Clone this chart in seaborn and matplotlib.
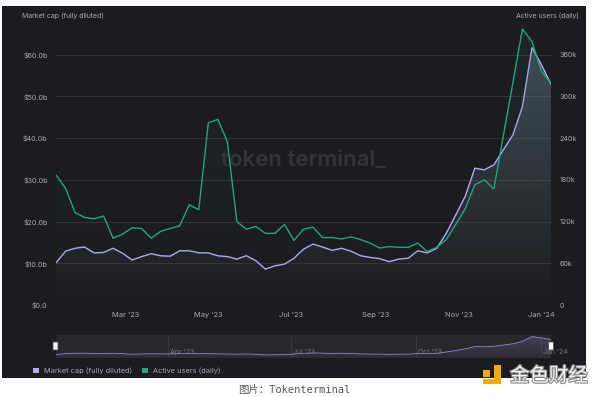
import numpy as np
import pandas as pd
import matplotlib
matplotlib.use('Agg')
import matplotlib.pyplot as plt
import matplotlib.dates as mdates
import matplotlib.colors as mcolors
import matplotlib.patheffects as pe
from matplotlib.patches import Rectangle, Patch, FancyBboxPatch
import seaborn as sns

# ---------------- data ----------------
start_date = '2023-01-09'
n_weeks = 53
market_cap_b = [10.1, 12.9, 13.6, 13.9, 12.5, 12.6, 13.6, 12.4, 10.8, 11.6,
                12.3, 11.8, 11.7, 13.0, 13.0, 12.5, 12.5, 11.8, 11.6, 11.0,
                11.8, 10.6, 8.6, 9.4, 9.8, 11.2, 13.4, 14.6, 13.9, 13.1,
                13.6, 12.9, 11.8, 11.4, 11.1, 10.4, 11.0, 11.2, 13.0, 12.5,
                13.6, 17.2, 21.6, 26.1, 32.8, 32.4, 33.6, 37.2, 40.8, 47.6,
                61.7, 57.6, 52.9]
active_users_k = [187, 168, 133, 126, 124, 128, 96, 102, 111, 110,
                  96, 106, 110, 114, 144, 137, 262, 267, 235, 120,
                  109, 113, 103, 103, 116, 93, 109, 112, 97, 97,
                  95, 98, 94, 89, 82, 84, 83, 83, 89, 77,
                  83, 94, 116, 139, 173, 180, 167, 244, 320, 397,
                  379, 336, 319]

left_ticks = [0, 10, 20, 30, 40, 50, 60]
left_tick_labels = ['$0.0', '$10.0b', '$20.0b', '$30.0b', '$40.0b', '$50.0b', '$60.0b']
right_ticks = [0, 60, 120, 180, 240, 300, 360]
right_tick_labels = ['0', '60k', '120k', '180k', '240k', '300k', '360k']
x_tick_dates = ['2023-03-01', '2023-05-01', '2023-07-01', '2023-09-01', '2023-11-01', '2024-01-01']
x_tick_labels = ["Mar '23", "May '23", "Jul '23", "Sep '23", "Nov '23", "Jan '24"]
nav_tick_dates = ['2023-04-01', '2023-07-01', '2023-10-01', '2024-01-01']
nav_tick_labels = ["Apr '23", "Jul '23", "Oct '23", "Jan '24"]
series_names = ['Market cap (fully diluted)', 'Active users (daily)']

# ---------------- style ----------------
sns.set_theme(style='dark')
plt.rcParams['font.family'] = ['Inter', 'DejaVu Sans']

PURPLE = '#b3a7f6'
GREEN = '#22a67b'
CARD = '#1c1b1f'
TXT = '#a9a9ad'
GRID = '#36353a'

W, H = 600, 397
fig = plt.figure(figsize=(W / 100, H / 100), dpi=100, facecolor='white')


def fx(px):
    return px / W


def fy(py):
    return 1 - py / H


# dark card
fig.patches.append(Rectangle((fx(2), fy(378)), fx(586) - fx(2), fy(6) - fy(378),
                             transform=fig.transFigure, facecolor=CARD,
                             edgecolor='none', zorder=-10))

dates = pd.date_range(start_date, periods=n_weeks, freq='7D')
df = pd.DataFrame({'date': dates, 'mcap': market_cap_b, 'users': active_users_k})
x0, x1 = dates[0], dates[-1]


def gradient_fill(ax, x, y, color, a_top, a_bot, ytop, zorder):
    poly = ax.fill_between(x, y, 0, facecolor='none', edgecolor='none')
    xn = mdates.date2num(x)
    rgb = mcolors.to_rgb(color)
    grad = np.zeros((256, 1, 4))
    grad[:, :, :3] = rgb
    grad[:, 0, 3] = np.linspace(a_bot, a_top, 256)
    im = ax.imshow(grad, aspect='auto', extent=[xn.min(), xn.max(), 0, ytop],
                   origin='lower', zorder=zorder, interpolation='bilinear')
    im.set_clip_path(poly.get_paths()[0], transform=ax.transData)


# ---------------- main axes ----------------
ax = fig.add_axes([fx(56), fy(305), fx(551) - fx(56), fy(13) - fy(305)])
ax.set_facecolor('none')
ax2 = ax.twinx()
ax2.set_facecolor('none')

gradient_fill(ax, df['date'], df['mcap'], '#8596b8', 0.40, 0.0, 70, 2)
sns.lineplot(data=df, x='date', y='mcap', ax=ax, color=PURPLE, linewidth=1.0, zorder=3)

gradient_fill(ax2, df['date'], df['users'], '#1f7a5c', 0.14, 0.0, 420, 2)
# watermark (above the faint fills, below the lines)
ax2.text(0.499, (305 - 160) / 292, 'token terminal_', transform=ax2.transAxes,
         ha='center', va='center', fontsize=16, fontweight='semibold', color='#333237', zorder=2.5)
sns.lineplot(data=df, x='date', y='users', ax=ax2, color=GREEN, linewidth=1.0, zorder=3)

ax.set_xlim(x0, x1)
ax2.set_xlim(x0, x1)
ax.set_ylim(0, 70)
ax2.set_ylim(0, 420)

ax.set_yticks(left_ticks)
ax.set_yticklabels(left_tick_labels)
ax2.set_yticks(right_ticks)
ax2.set_yticklabels(right_tick_labels)
ax.set_xticks(pd.to_datetime(x_tick_dates))
ax.set_xticklabels(x_tick_labels)
ax.set_xlabel('')
ax.set_ylabel('')
ax2.set_ylabel('')

ax.grid(axis='y', color=GRID, linewidth=0.6)
ax.grid(axis='x', visible=False)
ax2.grid(False)
for a in (ax, ax2):
    for s in a.spines.values():
        s.set_visible(False)
ax.tick_params(axis='y', length=0, pad=6, labelsize=5.2, labelcolor=TXT)
ax.tick_params(axis='x', length=0, pad=5, labelsize=5.4, labelcolor=TXT)
ax2.tick_params(axis='y', length=0, pad=6, labelsize=5.2, labelcolor=TXT)

fig.text(fx(22), fy(16), series_names[0], ha='left', va='center', fontsize=5.0, color=TXT)
fig.text(fx(579), fy(16), series_names[1], ha='right', va='center', fontsize=5.0, color=TXT)

# ---------------- navigator ----------------
axn = fig.add_axes([fx(56), fy(358), fx(551) - fx(56), fy(335) - fy(358)])
axn.set_facecolor('#28272c')
for d in nav_tick_dates:
    axn.axvline(pd.Timestamp(d), color='#3b3a40', linewidth=0.6, zorder=1)
gradient_fill(axn, df['date'], df['mcap'], '#6f6a9a', 0.40, 0.08, 66, 2)
sns.lineplot(data=df, x='date', y='mcap', ax=axn, color='#8e86c9', linewidth=0.6, zorder=3)
axn.set_xlim(x0, x1)
axn.set_ylim(0, 66)
axn.set_xticks([])
axn.set_yticks([])
axn.set_xlabel('')
axn.set_ylabel('')
for s in axn.spines.values():
    s.set_visible(False)
axn.axhline(0, color='#3f3e45', linewidth=0.8)
for d, lab in zip(nav_tick_dates, nav_tick_labels):
    axn.text(pd.Timestamp(d), 0.12, ' ' + lab, transform=axn.get_xaxis_transform(),
             ha='left', va='bottom', fontsize=5.0, color='#77767c', zorder=4)

# navigator handles
for hx in (55.5, 551):
    fig.patches.append(FancyBboxPatch((fx(hx - 2.5), fy(350)), fx(5), fy(342) - fy(350),
                                      boxstyle='round,pad=0.0', transform=fig.transFigure,
                                      facecolor='#f2f2f2', edgecolor='#555', linewidth=0.6,
                                      zorder=5))

# ---------------- legend ----------------
handles = [Patch(facecolor=PURPLE, edgecolor='none'), Patch(facecolor=GREEN, edgecolor='none')]
fig.legend(handles, series_names, loc='center left', bbox_to_anchor=(fx(28), fy(371)),
           ncol=2, frameon=False, fontsize=5.3, labelcolor=TXT, handlelength=0.75,
           handleheight=0.75, handletextpad=0.7, columnspacing=1.4, borderpad=0.2)

# ---------------- caption & watermark logo ----------------
fig.text(fx(294), fy(390), '图片：Tokenterminal', ha='center', va='center', fontsize=7.5,
         color='#555555', family=['DejaVu Sans Mono', 'Noto Sans CJK SC'])
LOGO = '#f0ac0c'
for (lx, ly, lw, lh) in [(483, 370, 7, 7), (494, 365, 7, 19), (483, 379, 18, 5)]:
    fig.patches.append(Rectangle((fx(lx), fy(ly + lh)), fx(lw), fy(ly) - fy(ly + lh),
                                 transform=fig.transFigure, facecolor=LOGO,
                                 edgecolor='none', zorder=6))
fig.text(fx(549), fy(376), '金色财经', ha='center', va='center', fontsize=14,
         color='#f4f4f4', family=['Noto Sans CJK SC', 'DejaVu Sans'], zorder=7,
         path_effects=[pe.withStroke(linewidth=1.6, foreground='#8a8a8a')])

fig.savefig('out.png', dpi=100, facecolor='white')
